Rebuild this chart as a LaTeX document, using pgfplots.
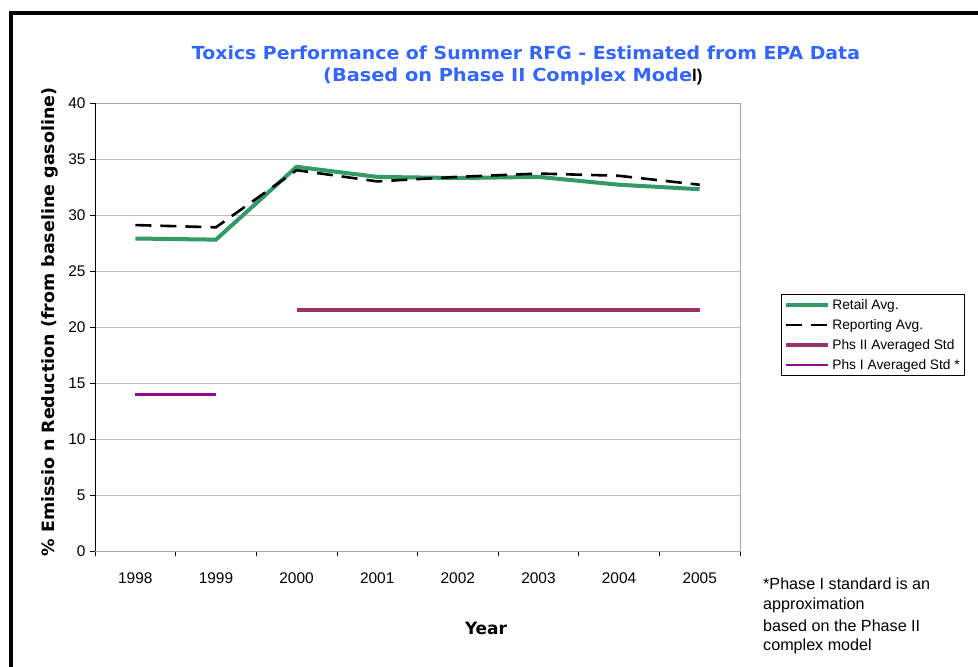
\documentclass[border=0pt]{standalone}
\usepackage{pgfplots}
\pgfplotsset{compat=1.18}
\usepackage{fontspec}
\setmainfont{Liberation Sans}
\newfontfamily\tahoma{DejaVu Sans}
\definecolor{retail}{HTML}{339966}
\definecolor{phsii}{HTML}{993366}
\definecolor{phsi}{HTML}{8E0A8E}
\definecolor{ttlblue}{HTML}{3366FF}
\begin{document}
\begin{tikzpicture}[x=1bp,y=1bp]
\path[use as bounding box] (0,0) rectangle (978,667);
\begin{scope}
\clip (0,0) rectangle (978,667);
\draw[line width=4bp] (11,654) rectangle (1000,-30);
\end{scope}
\begin{axis}[
  at={(95bp,116bp)}, anchor=south west,
  scale only axis, width=645bp, height=448bp,
  xmin=-0.5, xmax=7.5, ymin=0, ymax=40,
  xtick={-0.5,0.5,...,7.5},
  xticklabels={1998,1999,2000,2001,2002,2003,2004,2005},
  x tick label as interval,
  ytick={0,5,...,40},
  tick align=outside, xtick pos=bottom, ytick pos=left,
  major tick length=5bp,
  tick style={black, line width=0.6bp},
  axis line style={draw=gray!70, line width=0.8bp},
  ymajorgrids, grid style={gray!50, line width=0.8bp},
  /pgf/number format/assume math mode=true,
  tick label style={font=\fontsize{15.5}{17}\selectfont},
  xticklabel style={yshift=-13bp},
  yticklabel style={xshift=-1bp},
  legend style={at={(1.0636,0.5737)}, anchor=north west, draw=black, line width=0.8bp,
    font=\fontsize{13.8}{15}\selectfont, inner xsep=3bp, inner ysep=3bp,
    row sep=4.5bp, cells={anchor=west}},
  legend cell align=left,
  legend image code/.code={\draw[#1] (0bp,0bp) -- (42bp,0bp);},
]
\addplot[retail, line width=4bp] coordinates {(0,27.9) (1,27.8) (2,34.3) (3,33.4) (4,33.3) (5,33.4) (6,32.7) (7,32.3)};
\addlegendentry{Retail Avg.}
\addplot[black, line width=2.6bp, dash pattern=on 16bp off 9bp] coordinates {(0,29.1) (1,28.9) (2,34.0) (3,33.0) (4,33.4) (5,33.7) (6,33.5) (7,32.7)};
\addlegendentry{Reporting Avg.}
\addplot[phsii, line width=4bp] coordinates {(2,21.5) (3,21.5) (4,21.5) (5,21.5) (6,21.5) (7,21.5)};
\addlegendentry{Phs II Averaged Std}
\addplot[phsi, line width=2.8bp] coordinates {(0,14) (1,14)};
\addlegendentry{Phs I Averaged Std *}
\draw[black, line width=0.8bp] (rel axis cs:0,1) -- (rel axis cs:0,0) -- (rel axis cs:1,0);
\end{axis}
% title
\node[anchor=center, inner sep=0] at (526,614) {\resizebox{668bp}{\height}{\color{ttlblue}\tahoma\bfseries\fontsize{18}{21}\selectfont Toxics Performance of Summer RFG - Estimated from EPA Data}};
\node[anchor=west, inner sep=0] at (323,590) {\resizebox{369bp}{\height}{\color{ttlblue}\tahoma\bfseries\fontsize{18}{21}\selectfont (Based on Phase II Complex Mode}{\fontsize{17}{20}\selectfont\bfseries l)}};
% y label
\node[rotate=90, inner sep=0, anchor=center] at (50,345) {\resizebox{469bp}{\height}{\tahoma\bfseries\fontsize{17}{20}\selectfont \% Emissio n Reduction (from baseline gasoline)}};
% x label
\node[inner sep=0, anchor=center] at (486,39) {\tahoma\bfseries\fontsize{17}{20}\selectfont Year};
% footnote
\begin{scope}[every node/.style={anchor=base west, inner sep=0, font=\fontsize{16.2}{19}\selectfont}]
\node at (763,77) {*Phase I standard is an};
\node at (763,57) {approximation};
\node at (763,35) {based on the Phase II};
\node at (763,16) {complex model};
\end{scope}
\end{tikzpicture}
\end{document}
